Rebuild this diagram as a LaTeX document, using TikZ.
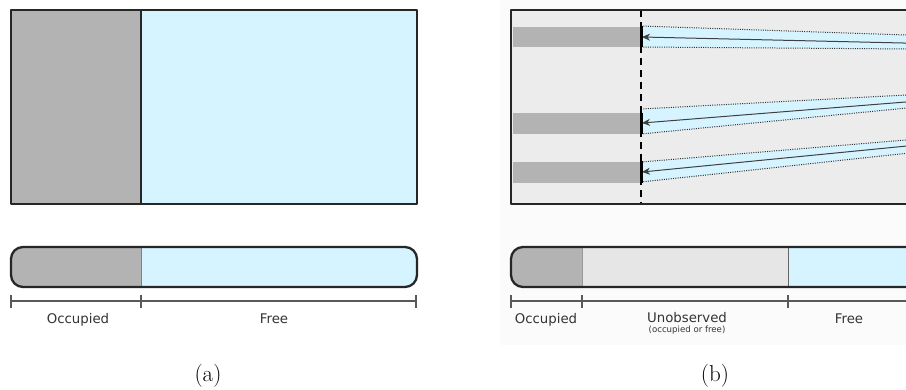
\documentclass[tikz,border=0pt]{standalone}
\usepackage{fontspec}
\setsansfont{DejaVu Sans}
\usetikzlibrary{arrows.meta}
\definecolor{occ}{HTML}{B3B3B3}
\definecolor{freec}{HTML}{D5F4FF}
\definecolor{unobs}{HTML}{E6E6E6}
\definecolor{gridbg}{HTML}{ECECEC}
\definecolor{panelbg}{HTML}{FBFBFB}
\definecolor{labelgray}{HTML}{333333}
\begin{document}
\begin{tikzpicture}[x=1pt,y=-1pt,
  outline/.style={draw=black!85, line width=2.3pt, line join=round},
  ruler/.style={draw=black!65, line width=1.3pt},
  lbl/.style={font=\sffamily\fontsize{13.3}{15}\selectfont, text=labelgray, inner sep=0, anchor=base},
  sublbl/.style={font=\sffamily\fontsize{8.6}{10}\selectfont, text=labelgray, inner sep=0, anchor=base},
  caption/.style={font=\fontsize{23}{28}\selectfont, inner sep=0, anchor=base},
  beamedge/.style={draw=black!80, line width=1pt, dash pattern=on 1pt off 1.3pt},
  ray/.style={draw=black!75, line width=1pt, -{Stealth[length=8pt,width=7pt,inset=2.5pt]}},
  hit/.style={draw=black, line width=3pt},
  scanline/.style={draw=black, line width=1.8pt, dash pattern=on 7pt off 5pt}
]
\useasboundingbox (0,0) rectangle (906,389);
\fill[white] (0,0) rectangle (906,389);

% ---------------- (a) ----------------
\fill[occ] (11,10) rectangle (141,204);
\fill[freec] (141,10) rectangle (417,204);
\draw[outline] (11,10) rectangle (417,204);
\draw[black!85, line width=1.5pt] (141,10) -- (141,204);

% one-dimensional bar
\begin{scope}
  \clip[rounded corners=12pt] (11,247) rectangle (417,287);
  \fill[occ] (11,247) rectangle (141,287);
  \fill[freec] (141,247) rectangle (417,287);
  \draw[black!50, line width=1pt] (141,247) -- (141,287);
\end{scope}
\draw[outline, rounded corners=12pt] (11,247) rectangle (417,287);

% extent ruler
\coordinate (a0) at (11,301);
\coordinate (a1) at (141,301);
\coordinate (a2) at (416,301);
\draw[ruler] (a0) -- (a2);
\foreach \p in {a0,a1,a2} \draw[ruler] ([yshift=-7pt]\p) -- ([yshift=6pt]\p);
\node[lbl] (occA) at (78,323) {Occupied};
\node[lbl] (freeA) at (274,323) {Free};
\node[caption] (capA) at (208,381) {(a)};

% ---------------- (b) ----------------
\begin{scope}
\clip (0,0) rectangle (906,389);
\fill[panelbg] (500,0) rectangle (906,345);

% grid area
\fill[gridbg] (511,10) rectangle (930,204);
\fill[occ] (513,27) rectangle (641,47);
\fill[occ] (513,113) rectangle (641,134);
\fill[occ] (513,162) rectangle (641,183);

% beams
\fill[freec] (641,26) -- (912,35.2) -- (912,49) -- (641,47) -- cycle;
\draw[beamedge] (641,26) -- (912,35.2);
\draw[beamedge] (641,47) -- (912,49);
\coordinate (s1) at (912,43.2);
\coordinate (e1) at (642,37);
\draw[ray] (s1) -- (e1);

\fill[freec] (641,109) -- (912,94.7) -- (912,107.5) -- (641,134) -- cycle;
\draw[beamedge] (641,109) -- (912,94.7);
\draw[beamedge] (641,134) -- (912,107.5);
\coordinate (s2) at (912,101.5);
\coordinate (e2) at (642,123);
\draw[ray] (s2) -- (e2);

\fill[freec] (641,162) -- (912,139.5) -- (912,152.7) -- (641,182) -- cycle;
\draw[beamedge] (641,162) -- (912,139.5);
\draw[beamedge] (641,182) -- (912,152.7);
\coordinate (s3) at (912,145.5);
\coordinate (e3) at (642,172);
\draw[ray] (s3) -- (e3);

% scan boundary and hits
\draw[scanline] (641,10) -- (641,204);
\draw[hit] (641,26) -- (641,47);
\draw[hit] (641,113) -- (641,134);
\draw[hit] (641,161) -- (641,183);

\draw[outline] (930,10) -- (511,10) -- (511,204) -- (930,204);

% one-dimensional bar
\begin{scope}
  \clip[rounded corners=12pt] (940,247) -- (511,247) -- (511,287) -- (940,287) -- cycle;
  \fill[occ] (511,247) rectangle (582,287);
  \fill[unobs] (582,247) rectangle (788,287);
  \fill[freec] (788,247) rectangle (940,287);
  \draw[black!40, line width=1pt] (582,247) -- (582,287);
  \draw[black!60, line width=1pt] (788,247) -- (788,287);
\end{scope}
\draw[outline, rounded corners=12pt] (940,247) -- (511,247) -- (511,287) -- (940,287);

% extent ruler
\coordinate (b0) at (511,301);
\coordinate (b1) at (582,301);
\coordinate (b2) at (788,301);
\draw[ruler] (b0) -- (930,301);
\foreach \p in {b0,b1,b2} \draw[ruler] ([yshift=-7pt]\p) -- ([yshift=6pt]\p);
\node[lbl] (occB) at (546,323) {Occupied};
\node[lbl] (unobsB) at (687,322) {Unobserved};
\node[sublbl] (unobsNote) at (687,332) {(occupied or free)};
\node[lbl] (freeB) at (849,323) {Free};
\end{scope}
\node[caption] (capB) at (715,381) {(b)};
\end{tikzpicture}
\end{document}
